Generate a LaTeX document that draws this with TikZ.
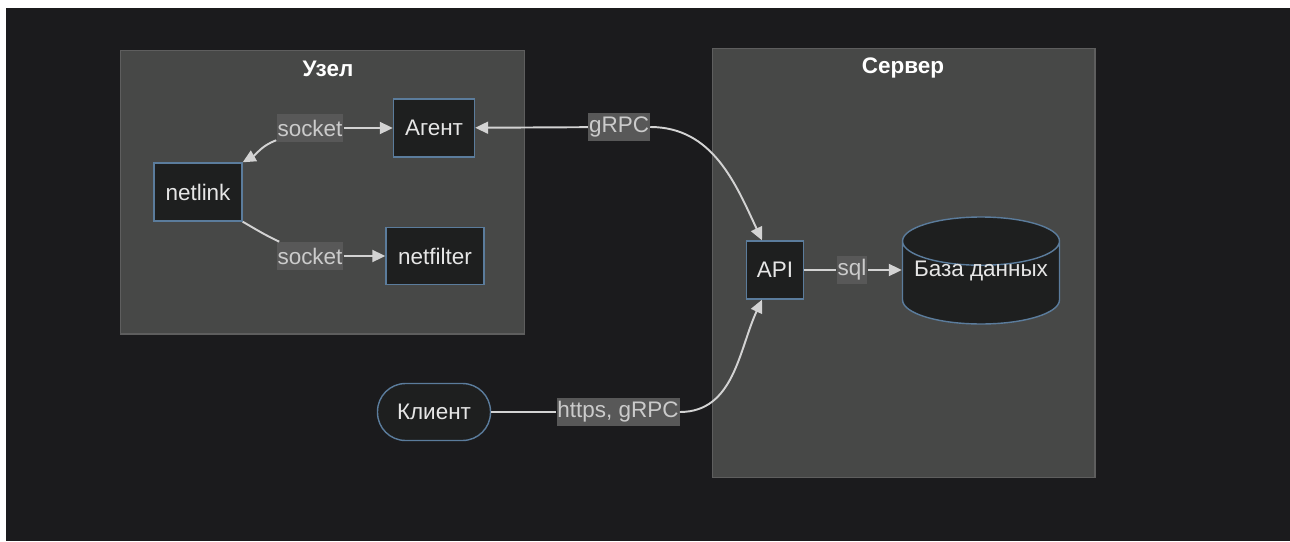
\documentclass[tikz,border=0pt]{standalone}
\usepackage{fontspec}
\setmainfont{Liberation Sans}
\usetikzlibrary{shapes.geometric,arrows.meta}
\definecolor{tausta}{HTML}{1B1B1D}
\definecolor{ryhma}{HTML}{474847}
\definecolor{ryhmareuna}{HTML}{5E5E5E}
\definecolor{solmu}{HTML}{1E1F1F}
\definecolor{solmureuna}{HTML}{5B7C9C}
\definecolor{viiva}{HTML}{D3D3D3}
\definecolor{selite}{HTML}{585858}
\definecolor{teksti}{HTML}{E6E6E6}
\tikzset{
  fontti/.style={font=\fontsize{12.8}{14}\selectfont},
  ryhmalaatikko/.style={draw=ryhmareuna, fill=ryhma, line width=0.6pt},
  otsikko/.style={font=\fontsize{12.8}{14}\selectfont\bfseries, text=white},
  laatikko/.style={fontti, draw=solmureuna, fill=solmu, text=teksti, line width=0.8pt, inner sep=0pt, minimum height=1.16cm},
  merkinta/.style={fontti, fill=selite, text=viiva!90!gray, inner sep=0.5pt, minimum height=0.56cm},
  yhteys/.style={draw=viiva, line width=1.1pt},
  nuoli/.style={yhteys, -{Triangle[length=0.26cm, width=0.24cm]}}
}
\begin{document}
\begin{tikzpicture}[x=0.02cm, y=-0.02cm]
				\fill[white] (0,0) rectangle (1290,541);
				\fill[tausta] (6,8) rectangle (1290,541);
				\useasboundingbox (0,0) rectangle (1290,541);
				% ryhmat
				\node[ryhmalaatikko, minimum width=8.1cm, minimum height=5.68cm] (uzel) at (322.5,192) {};
				\node[ryhmalaatikko, minimum width=7.66cm, minimum height=8.6cm] (server) at (903.5,263) {};
				\node[otsikko] at (328,69) {Узел};
				\node[otsikko] at (903,68) {Сервер};
				% solmut
				\node[laatikko, minimum width=1.62cm] (agentti) at (434,128) {Агент};
				\node[laatikko, minimum width=1.76cm] (netlink) at (198,192) {netlink};
				\node[laatikko, minimum width=1.96cm, minimum height=1.14cm] (netfilter) at (435,256) {netfilter};
				\node[laatikko, minimum width=1.14cm] (api) at (775,270) {API};
				\node[laatikko, cylinder, shape border rotate=90, aspect=0.36, minimum width=3.14cm, minimum height=2.14cm, anchor=shape center] (kanta) at (981,270.5) {\phantom{База данных}};
				\node[fontti, text=teksti] at (kanta.shape center) {База данных};
				\node[laatikko, rounded corners=0.56cm, minimum width=2.26cm, minimum height=1.14cm] (asiakas) at (434,412) {Клиент};
				% merkinnat
				\node[merkinta] (s1) at (310,128) {socket};
				\node[merkinta] (s2) at (310,256) {socket};
				\node[merkinta] (g) at (619,127) {gRPC};
				\node[merkinta] (h) at (618,412) {https, gRPC};
				\node[merkinta] (sql) at (852,270) {sql};
				% yhteydet
				\draw[nuoli] (s1) -- (agentti);
				\draw[nuoli] (s1) to[out=200, in=30] (netlink.north east);
				\draw[yhteys] (netlink.south east) to[out=-30, in=155] (s2);
				\draw[nuoli] (s2) -- (netfilter);
				\draw[nuoli] (g) -- (agentti);
				\draw[nuoli] (g) to[out=0, in=115] ([xshift=-0.26cm]api.north);
				\draw[yhteys] (h) -- (asiakas);
				\draw[nuoli] (h) to[out=0, in=-115] ([xshift=-0.26cm]api.south);
				\draw[yhteys] (api) -- (sql);
				\draw[nuoli] (sql) -- (sql -| kanta.west);
			\end{tikzpicture}
\end{document}
